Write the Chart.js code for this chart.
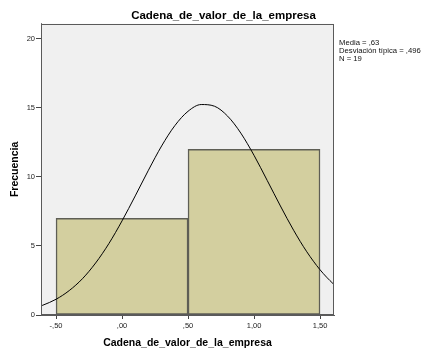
<!DOCTYPE html>
<html>
<head>
<meta charset="utf-8">
<script src="https://cdn.jsdelivr.net/npm/chart.js@4/dist/chart.umd.min.js"></script>
<style>
  html, body { margin: 0; padding: 0; background: #ffffff; }
  #wrap { width: 447px; height: 358px; position: relative; }
</style>
</head>
<body>
<div id="wrap"><canvas id="c" width="447" height="358"></canvas></div>
<script>
// ---- data ----
const chartTitle = 'Cadena_de_valor_de_la_empresa';
const xAxisTitle = 'Cadena_de_valor_de_la_empresa';
const yAxisTitle = 'Frecuencia';
const binCenters = [0, 1];
const binCounts = [7, 12];
const curveX = [-0.614, -0.6, -0.5, -0.4, -0.3, -0.2, -0.1, 0.0, 0.1, 0.2, 0.3, 0.4, 0.5, 0.6, 0.7, 0.8, 0.9, 1.0, 1.1, 1.2, 1.3, 1.4, 1.5, 1.6, 1.606];
const curveY = [0.66, 0.71, 1.14, 1.77, 2.63, 3.77, 5.17, 6.82, 8.63, 10.49, 12.25, 13.72, 14.76, 15.25, 15.13, 14.41, 13.18, 11.57, 9.75, 7.90, 6.14, 4.58, 3.28, 2.26, 2.21];
const xTickValues = [-0.5, 0, 0.5, 1, 1.5];
const xTickLabels = ['-,50', ',00', ',50', '1,00', '1,50'];
const yTickValues = [0, 5, 10, 15, 20];
const yTickLabels = ['0', '5', '10', '15', '20'];
const statsLines = ['Media = ,63', 'Desviación típica = ,496', 'N = 19'];
const xMin = -0.614, xMax = 1.606, yMin = 0, yMax = 21.1;

const FONT = '"Liberation Sans", Arial, sans-serif';

const framePlugin = {
  id: 'frame',
  beforeDatasetsDraw(chart) {
    const {ctx, chartArea: a} = chart;
    ctx.save();
    ctx.fillStyle = '#f0f0f0';
    ctx.fillRect(a.left, a.top, a.right - a.left, a.bottom - a.top);
    ctx.restore();
  },
  afterDraw(chart) {
    const {ctx, chartArea: a} = chart;
    ctx.save();
    ctx.strokeStyle = '#5a5a5a';
    ctx.lineWidth = 1;
    ctx.strokeRect(Math.round(a.left) + 0.5, Math.round(a.top) + 0.5,
                   Math.round(a.right - a.left) - 1, Math.round(a.bottom - a.top) - 1);
    ctx.fillStyle = '#111';
    ctx.font = '7.7px ' + FONT;
    ctx.textBaseline = 'middle';
    ctx.textAlign = 'left';
    statsLines.forEach((t, i) => ctx.fillText(t, a.right + 5, a.top + 19.3 + i * 7.7));
    ctx.restore();
  }
};

new Chart(document.getElementById('c'), {
  data: {
    datasets: [
      {
        type: 'line',
        data: curveX.map((x, i) => ({x, y: curveY[i]})),
        borderColor: '#000000',
        borderWidth: 1,
        pointRadius: 0,
        cubicInterpolationMode: 'monotone',
        fill: false,
        clip: 0,
        order: 0
      },
      {
        type: 'bar',
        data: binCenters.map((x, i) => ({x, y: binCounts[i]})),
        backgroundColor: '#d3cf9f',
        borderColor: '#5e5e55',
        borderWidth: 1.5,
        borderSkipped: false,
        barThickness: 'flex',
        barPercentage: 1,
        categoryPercentage: 1,
        order: 1
      }
    ]
  },
  options: {
    responsive: false,
    animation: false,
    devicePixelRatio: 1,
    layout: { padding: 0 },
    plugins: {
      legend: { display: false },
      tooltip: { enabled: false },
      title: {
        display: true,
        text: chartTitle,
        color: '#000',
        font: { family: FONT, size: 11.5, weight: 'bold' },
        padding: { top: 9, bottom: 1 }
      }
    },
    scales: {
      x: {
        type: 'linear',
        offset: false,
        min: xMin, max: xMax,
        afterBuildTicks(s) { s.ticks = xTickValues.map(v => ({value: v})); },
        afterFit(s) { s.height = 43; },
        ticks: {
          callback: (v, i) => xTickLabels[i],
          color: '#222',
          font: { family: FONT, size: 7.5 },
          padding: 2,
          maxRotation: 0,
          autoSkip: false
        },
        grid: { display: true, offset: false, drawOnChartArea: false, drawTicks: true, tickLength: 4, color: '#444' },
        border: { display: true, color: '#5a5a5a' },
        title: {
          display: true,
          text: xAxisTitle,
          color: '#000',
          font: { family: FONT, size: 10.5, weight: 'bold' },
          padding: { top: 0, bottom: 8.7 }
        }
      },
      y: {
        type: 'linear',
        position: 'left',
        min: yMin, max: yMax,
        afterBuildTicks(s) { s.ticks = yTickValues.map(v => ({value: v})); },
        afterFit(s) { s.width = 41; },
        ticks: {
          callback: (v, i) => yTickLabels[i],
          color: '#222',
          font: { family: FONT, size: 7.5 },
          padding: 1,
          autoSkip: false
        },
        grid: { display: true, drawOnChartArea: false, drawTicks: true, tickLength: 5, color: '#444' },
        border: { display: true, color: '#5a5a5a' },
        title: {
          display: true,
          text: yAxisTitle,
          color: '#000',
          font: { family: FONT, size: 10.5, weight: 'bold' },
          padding: { top: 8.7, bottom: 0 }
        }
      },
      yRight: {
        type: 'linear',
        position: 'right',
        display: true,
        min: yMin, max: yMax,
        afterFit(s) { s.width = 113; },
        ticks: { display: false },
        grid: { display: false, drawTicks: false },
        border: { display: false },
        title: { display: false }
      }
    }
  },
  plugins: [framePlugin]
});
</script>
</body>
</html>
